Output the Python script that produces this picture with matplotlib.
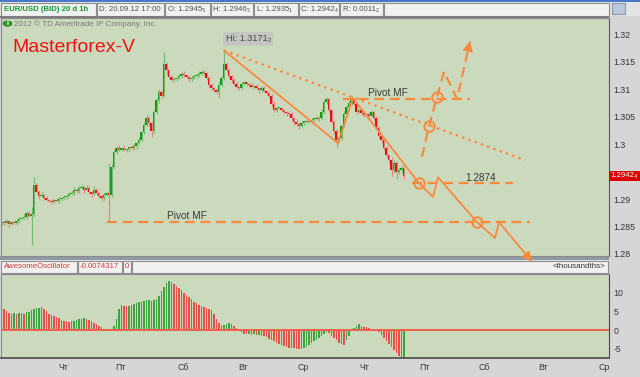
import numpy as np
import matplotlib
matplotlib.use('Agg')
import matplotlib.pyplot as plt
from matplotlib.patches import Rectangle, Circle
from matplotlib.transforms import blended_transform_factory

plt.rcParams['font.family'] = ['Liberation Sans', 'DejaVu Sans']

# ---- price data, hourly bars (close) ----
closes = [
    1.2858, 1.2856, 1.2860, 1.2855, 1.2858, 1.2856, 1.2860, 1.2864, 1.2866, 1.2868,
    1.2875, 1.2869, 1.2873, 1.2926, 1.2913, 1.2906, 1.2907, 1.2902, 1.2898, 1.2897,
    1.2895, 1.2898, 1.2897, 1.2900, 1.2902, 1.2904, 1.2906, 1.2909, 1.2911, 1.2917,
    1.2915, 1.2920, 1.2922, 1.2917, 1.2920, 1.2913, 1.2909, 1.2917, 1.2911, 1.2906,
    1.2902, 1.2907, 1.2911, 1.2907, 1.2959, 1.2986, 1.2993, 1.2990, 1.2993, 1.2990,
    1.2991, 1.2995, 1.2993, 1.2997, 1.3002, 1.3008, 1.3022, 1.3035, 1.3048, 1.3039,
    1.3024, 1.3059, 1.3081, 1.3095, 1.3088, 1.3146, 1.3135, 1.3123, 1.3117, 1.3119,
    1.3121, 1.3124, 1.3128, 1.3126, 1.3123, 1.3119, 1.3121, 1.3124, 1.3126, 1.3128,
    1.3132, 1.3130, 1.3121, 1.3108, 1.3103, 1.3099, 1.3095, 1.3108, 1.3121, 1.3146,
    1.3135, 1.3124, 1.3117, 1.3110, 1.3104, 1.3103, 1.3110, 1.3113, 1.3110, 1.3108,
    1.3104, 1.3106, 1.3103, 1.3099, 1.3103, 1.3097, 1.3093, 1.3088, 1.3073, 1.3062,
    1.3066, 1.3066, 1.3062, 1.3059, 1.3057, 1.3055, 1.3048, 1.3041, 1.3037, 1.3033,
    1.3039, 1.3042, 1.3041, 1.3042, 1.3044, 1.3048, 1.3046, 1.3048, 1.3059, 1.3077,
    1.3082, 1.3062, 1.3041, 1.3024, 1.3008, 1.3011, 1.3033, 1.3055, 1.3068, 1.3075,
    1.3082, 1.3073, 1.3059, 1.3062, 1.3057, 1.3053, 1.3055, 1.3052, 1.3059, 1.3048,
    1.3030, 1.3015, 1.3008, 1.2993, 1.2980, 1.2971, 1.2953, 1.2966, 1.2949, 1.2953,
    1.2957, 1.2942]
first_open = 1.2856

# wick lengths in pips above / below the body
upper_wick = [
    3, 2, 4, 2, 3, 2, 3, 4, 2, 5,   3, 4, 12, 14, 4, 3, 6, 2, 3, 2,
    3, 2, 4, 3, 2, 3, 2, 4, 3, 5,   4, 3, 6, 2, 5, 3, 2, 7, 3, 2,
    3, 4, 2, 55, 5, 4, 3, 5, 2, 4,  3, 2, 4, 3, 2, 5, 3, 4, 6, 3,
    2, 4, 3, 5, 4, 22, 3, 2, 4, 3,  2, 4, 3, 5, 2, 3, 4, 2, 3, 5,
    4, 3, 2, 3, 4, 2, 3, 5, 4, 25,  3, 4, 2, 3, 5, 2, 4, 3, 2, 3,
    4, 2, 3, 2, 4, 3, 2, 4, 3, 5,   3, 4, 2, 3, 2, 4, 3, 2, 5, 3,
    4, 3, 2, 4, 3, 2, 3, 4, 5, 4,   5, 3, 2, 4, 3, 4, 3, 5, 4, 3,
    6, 3, 4, 2, 3, 4, 2, 3, 4, 2,   3, 4, 2, 3, 4, 2, 5, 6, 3, 4,
    5, 3]
lower_wick = [
    3, 4, 2, 5, 3, 2, 4, 3, 2, 3,   4, 2, 53, 3, 2, 5, 3, 4, 2, 3,
    4, 3, 2, 5, 3, 2, 4, 3, 2, 3,   3, 4, 2, 5, 3, 4, 6, 2, 3, 4,
    6, 3, 2, 49, 3, 2, 4, 3, 2, 3,  4, 3, 2, 3, 5, 2, 3, 4, 2, 5,
    10, 3, 4, 6, 3, 2, 9, 3, 4, 2,  3, 2, 4, 3, 2, 5, 3, 2, 4, 3,
    2, 3, 4, 3, 5, 4, 3, 10, 3, 4,  3, 4, 5, 2, 3, 4, 3, 2, 4, 3,
    2, 4, 3, 5, 3, 2, 4, 3, 5, 4,   3, 2, 4, 3, 5, 3, 4, 6, 3, 5,
    3, 4, 2, 3, 4, 3, 2, 3, 3, 4,   3, 4, 3, 5, 13, 4, 3, 2, 4, 3,
    3, 4, 3, 2, 4, 3, 5, 3, 2, 4,   3, 4, 5, 3, 4, 5, 10, 6, 12, 4,
    5, 6]

# Awesome Oscillator, thousandths
ao = [
    5.9, 5.5, 5.0, 4.6, 4.4, 4.5, 4.3, 4.5, 4.6, 4.4, 4.7,
    4.9, 5.3, 5.6, 5.8, 6.0, 6.2,
    5.6, 5.0, 4.4, 4.0, 3.7, 3.4, 3.1, 2.8, 2.5, 2.3, 2.1,
    2.3, 2.5, 2.8, 2.9, 3.0, 3.1, 3.0,
    2.7, 2.4, 2.0, 1.6, 1.2, 0.8, 0.2,
    0.1, -0.1, -0.1,
    1.0, 3.0, 5.5, 6.6,
    6.4, 6.3, 6.5, 6.8, 6.9,
    7.2, 7.4, 7.6, 7.9, 8.0, 8.1, 7.9, 8.1, 8.4,
    9.2, 10.5, 11.6, 12.6, 13.0,
    12.8, 12.4, 11.9, 11.3, 10.6, 10.0, 9.4, 8.8, 8.2, 7.6, 7.1, 6.8, 6.5, 6.2, 5.9, 5.6, 5.3,
    4.2, 3.0, 2.0, 1.25,
    1.4, 1.6, 1.8, 1.7,
    1.2, 0.6, 0.0, -0.5, -1.0,
    -1.2, -1.1, -1.3, -1.2, -1.4, -1.3, -1.5, -1.7,
    -2.0, -2.3, -2.7, -3.0, -3.4, -3.7, -4.0, -4.3, -4.5, -4.7, -4.8, -4.9, -5.0, -5.1, -5.2,
    -4.9, -4.5, -4.0, -3.5, -3.0, -2.6, -2.2, -1.6, -1.0, -0.5,
    -0.9, -1.5, -2.2, -2.8, -3.4, -3.8, -4.1,
    -2.8, -1.5, -0.3, 0.6, 1.2, 1.5,
    1.2, 0.9, 0.7, 0.5, 0.3, 0.2, 0.0,
    -0.6, -1.4, -2.2, -3.0, -3.8, -4.6, -5.4, -6.2, -7.0, -7.5, -7.43]

price_ticks = [1.32, 1.315, 1.31, 1.305, 1.30, 1.29, 1.285, 1.28]
price_labels = ['1.32', '1.315', '1.31', '1.305', '1.3', '1.29', '1.285', '1.28']
ao_ticks = [10, 5, 0, -5]
ao_labels = ['10', '5', '0', '-5']
day_pos = [24.6, 47.4, 72.6, 96.6, 120.6, 145, 169, 193, 216.6, 241]
day_labels = ['Чт', 'Пт', 'Сб', 'Вт', 'Ср', 'Чт', 'Пт', 'Сб', 'Вт', 'Ср']
last_price = 1.29424
hi_bar, hi_price = 89, 1.31712

# hand drawn analysis (bar index, price)
trend_x = [89, 134.6, 140.6, 167, 172.6, 174.6, 190.2, 197.4, 199]
trend_y = [1.3171, 1.3002, 1.3084, 1.2929, 1.2904, 1.2940, 1.2858, 1.2829, 1.2858]
trend_tip = (212.2, 1.2786)
up_x = [168.2, 171, 174.2, 177, 182.2, 187.4]
up_y = [1.2977, 1.3033, 1.3086, 1.3132, 1.3083, 1.3187]
dot_x = [89, 209.4]
dot_y = [1.3171, 1.2971]
pivot_low_x, pivot_low = [42.2, 211.4], 1.2858
pivot_high_x, pivot_high = [136.6, 187.4], 1.3083
level_x, level = [164.2, 204.6], 1.2929
circle_x = [167, 190.2, 171, 174.2]
circle_y = [1.2929, 1.2858, 1.3033, 1.3086]
labels = [('Pivot MF', 66.2, 1.2870), ('Pivot MF', 146.6, 1.3093), ('1.2874', 185.4, 1.2939)]

ORANGE = '#fb8a3e'
PLOT_BG = '#cbd9bd'
W, H = 640, 377

fig = plt.figure(figsize=(6.4, 3.77), dpi=100, facecolor='#d6d6d6')

# ---- window chrome (pixel coords, y downwards) ----
ov = fig.add_axes([0, 0, 1, 1], zorder=0)
ov.set_xlim(0, W)
ov.set_ylim(H, 0)
ov.axis('off')

def box(x0, x1, y0, y1, fc='#f1f1f1', ec='#8e8e8e', lw=0.8):
    ov.add_patch(Rectangle((x0, y0), x1 - x0, y1 - y0, fc=fc, ec=ec, lw=lw))

ov.add_patch(Rectangle((0, 0), W, 1.5, color='#4a78c8', lw=0))
ov.add_patch(Rectangle((0, 1.5), W, 14.5, color='#e3e3e3', lw=0))
for x0, x1 in [(1, 96), (97, 164), (165, 210), (211, 253), (254, 298), (299, 339), (340, 383), (384, 609)]:
    box(x0, x1, 3, 15.5)
ov.add_patch(Rectangle((0, 16), 609, 2, color='#7c7c7c', lw=0))
ov.add_patch(Rectangle((612, 3), 13, 11, fc='#b9c9d9', ec='#8798a8', lw=0.8))

hdr = [('EUR/USD (BID) 20 d 1h', 4), ('D: 20.09.12 17:00', 99), ('O: 1.2945₅', 168),
       ('H: 1.2946₃', 213), ('L: 1.2935₁', 257), ('C: 1.2942₄', 301), ('R: 0.0011₂', 343)]
for i, (t, xx) in enumerate(hdr):
    if i == 0:
        ov.text(xx, 9.5, t, color='#159a2a', fontsize=5.6, fontweight='bold', va='center')
    else:
        ov.text(xx, 9.5, t, color='#505050', fontsize=5.6, va='center')

# panel separator + oscillator header
ov.add_patch(Rectangle((0, 256), 609, 3.5, color='#8e9aa7', lw=0))
ov.add_patch(Rectangle((0, 259.5), 609, 14.5, color='#e3e3e3', lw=0))
for x0, x1 in [(1, 77), (78, 122), (123, 131), (132, 608)]:
    box(x0, x1, 261, 272.5)
ov.text(3.5, 267, 'AwesomeOscillator', color='#d23a3a', fontsize=5.6, va='center')
ov.text(80, 267, '-0.0074317', color='#d23a3a', fontsize=5.6, va='center')
ov.text(125, 267, '0', color='#d23a3a', fontsize=5.6, va='center')
ov.text(605, 267, '<thousandths>', color='#333333', fontsize=5.8, va='center', ha='right')

# ---- price panel ----
n = len(closes)
x = np.arange(n)
c = np.array(closes)
o = np.array([first_open] + closes[:-1])
hi = np.maximum(o, c) + np.array(upper_wick) * 1e-4
lo = np.minimum(o, c) - np.array(lower_wick) * 1e-4
rise = c >= o

ax = fig.add_axes([1 / W, 121 / H, 608 / W, 238 / H], zorder=2)
ax.set_facecolor(PLOT_BG)
ax.vlines(x, lo, hi, colors=np.where(rise, '#6fbf6a', '#ec8080'), lw=0.8)
ax.bar(x, np.maximum(np.abs(c - o), 0.00012), bottom=np.minimum(o, c), width=0.9,
       color=np.where(rise, '#0f9a10', '#e01010'), linewidth=0)

ax.set_xlim(-0.2, 243)
ax.set_ylim(1.27963, 1.32301)
ax.set_xticks([])
ax.yaxis.tick_right()
ax.set_yticks(price_ticks)
ax.set_yticklabels(price_labels)
ax.tick_params(axis='y', length=0, pad=3, labelsize=6.3, labelcolor='#333333')
for s in ax.spines.values():
    s.set_color('#8a8a8a')
    s.set_linewidth(0.8)
ax.spines['right'].set_color('#5a5a5a')

# analysis drawing
ax.plot(trend_x, trend_y, color=ORANGE, lw=1.3, solid_capstyle='round')
ax.annotate('', xy=trend_tip, xytext=(trend_x[-1], trend_y[-1]), annotation_clip=False,
            arrowprops=dict(arrowstyle='-|>,head_length=0.55,head_width=0.28', color=ORANGE,
                            lw=1.3, shrinkA=0, shrinkB=0))
ax.plot(dot_x, dot_y, color=ORANGE, lw=1.6, dashes=(1.1, 1.9))
ax.plot(up_x, up_y, color=ORANGE, lw=1.6, dashes=(4.5, 2.5))
ax.annotate('', xy=(up_x[-1], up_y[-1]),
            xytext=(up_x[-1] - 0.15 * (up_x[-1] - up_x[-2]), up_y[-1] - 0.15 * (up_y[-1] - up_y[-2])),
            arrowprops=dict(arrowstyle='-|>,head_length=0.55,head_width=0.3', color=ORANGE,
                            lw=1.2, shrinkA=0, shrinkB=0))
ax.plot(pivot_low_x, [pivot_low] * 2, color=ORANGE, lw=1.6, dashes=(4.5, 2.5))
ax.plot(pivot_high_x, [pivot_high] * 2, color=ORANGE, lw=1.6, dashes=(4.5, 2.5))
ax.plot(level_x, [level] * 2, color=ORANGE, lw=1.6, dashes=(4.5, 2.5))
ax.plot(circle_x, circle_y, 'o', ms=7.5, mfc='none', mec=ORANGE, mew=1.4)
for t, bx, py in labels:
    ax.text(bx, py, t, fontsize=7.2, color='#3a3a3a', va='center', ha='left')

ax.text(hi_bar + 0.6, 1.3192, 'Hi: 1.3171₂', fontsize=6.6, color='#4a4a4a', va='center',
        bbox=dict(boxstyle='round,pad=0.25', fc='#c3c7c0', ec='none'))

# last price tag
tr = blended_transform_factory(ax.transAxes, ax.transData)
ax.text(1.003, last_price, '1.2942₄', transform=tr, fontsize=5.6, color='white', va='center',
        ha='left', bbox=dict(boxstyle='square,pad=0.2', fc='#d80000', ec='none'))

# in-plot captions
ax.text(14 / W, 1 - 24 / H, '2012 © TD Ameritrade IP Company, Inc.', transform=fig.transFigure,
        fontsize=5.8, color='#7a7a7a', va='center')
ax.add_patch(Circle((7.5 / W, 1 - 23.5 / H), 4.5 / W, transform=fig.transFigure, fc='#2e9a2e',
                    ec='#1d7a1d', lw=0.5))
ax.text(7.5 / W, 1 - 23.5 / H, 'i', transform=fig.transFigure, fontsize=5, color='white',
        fontweight='bold', ha='center', va='center')
ax.text(12 / W, 1 - 47 / H, 'Masterforex-V', transform=fig.transFigure, fontsize=14,
        color='#ee1111', va='center')

# ---- Awesome Oscillator panel ----
ao_arr = np.array(ao)
ao_up = np.r_[True, ao_arr[1:] >= ao_arr[:-1]]
ax2 = fig.add_axes([1 / W, 19 / H, 608 / W, 84 / H], zorder=1)
ax2.set_facecolor(PLOT_BG)
ax2.bar(np.arange(len(ao)), ao_arr, width=0.55, color=np.where(ao_up, '#3ea33e', '#e65048'),
        linewidth=0)
ax2.axhline(0, color='#f0604c', lw=1.4)
ax2.set_xlim(-0.2, 243)
ax2.set_ylim(-7.5, 15)
ax2.yaxis.tick_right()
ax2.set_yticks(ao_ticks)
ax2.set_yticklabels(ao_labels)
ax2.set_xticks(day_pos)
ax2.set_xticklabels(day_labels)
ax2.tick_params(axis='both', length=0, labelsize=6.3, labelcolor='#3a3a3a')
ax2.tick_params(axis='y', pad=3)
ax2.tick_params(axis='x', pad=3.5)
for s in ax2.spines.values():
    s.set_color('#8a8a8a')
    s.set_linewidth(0.8)
ax2.spines['right'].set_color('#4a4a4a')
ax2.spines['bottom'].set_color('#4a4a4a')
ax2.spines['bottom'].set_linewidth(1.2)

fig.savefig('out.png', dpi=100, facecolor=fig.get_facecolor())
